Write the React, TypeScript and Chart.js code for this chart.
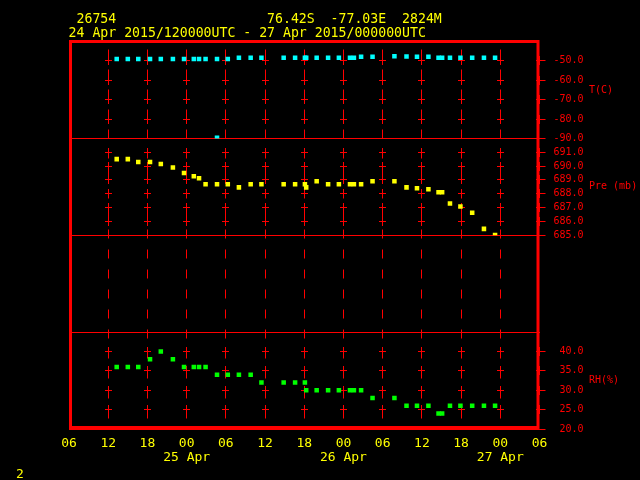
import { useEffect, useRef } from "react";
import { Chart, registerables } from "chart.js";

Chart.register(...registerables);

const RED = "#ff0000";
const YELLOW = "#ffff00";
const CYAN = "#00ffff";
const GREEN = "#00ff00";
const CLEAR = "rgba(0,0,0,0)";
const MONO = '"DejaVu Sans Mono", monospace';

// Header text
const stationId = "26754";
const stationLoc = "76.42S  -77.03E  2824M";
const timeRange = "24 Apr 2015/120000UTC - 27 Apr 2015/000000UTC";
const pageNumber = "2";

// X axis: hours after 24 Apr 2015 06 UTC
const xTickLabels = ["06", "12", "18", "00", "06", "12", "18", "00", "06", "12", "18", "00", "06"];
const xDateLabels = ["", "", "", "25 Apr", "", "", "", "26 Apr", "", "", "", "27 Apr", ""];

// Observation times (hours after 24 Apr 06 UTC)
const obsHours = [
  7.3, 9.0, 10.6, 12.4, 14.05, 15.9, 17.6, 19.1, 19.9, 20.9,
  22.65, 24.3, 26.0, 27.8, 29.45, 32.85, 34.6, 36.1, 36.3, 37.9,
  39.65, 41.3, 43.0, 43.6, 44.7, 46.45, 49.8, 51.65, 53.25, 55.0,
  56.55, 57.1, 58.3, 59.9, 61.7, 63.5, 65.2,
];

const tempC = [
  -49.0, -49.0, -49.0, -49.0, -49.0, -49.0, -49.0, -49.0, -49.0, -49.0,
  -49.0, -49.0, -48.4, -48.4, -48.4, -48.4, -48.4, -48.4, -48.4, -48.4,
  -48.4, -48.4, -48.4, -48.4, -47.9, -47.9, -47.6, -47.7, -47.9, -47.9,
  -48.4, -48.4, -48.4, -48.4, -48.4, -48.4, -48.4,
];

const tempSpikeHours = [22.65];
const tempSpikeC = [-89.7];

const presMb = [
  690.5, 690.5, 690.3, 690.3, 690.15, 689.9, 689.5, 689.27, 689.12, 688.68,
  688.68, 688.68, 688.46, 688.68, 688.68, 688.68, 688.68, 688.68, 688.46, 688.9,
  688.68, 688.68, 688.68, 688.68, 688.68, 688.9, 688.9, 688.46, 688.4, 688.32,
  688.1, 688.1, 687.29, 687.07, 686.63, 685.46, 685.02,
];

const rhPct = [
  36, 36, 36, 38, 40, 38, 36, 36, 36, 36,
  34, 34, 34, 34, 32, 32, 32, 32, 30, 30,
  30, 30, 30, 30, 30, 28, 28, 26, 26, 26,
  24, 24, 26, 26, 26, 26, 26,
];

// Axis ranges
const tRange = { min: -90, max: -40, step: 10, title: "T(C)" };
const pRange = { min: 685, max: 692, step: 1, title: "Pre (mb)" };
const eRange = { min: 0, max: 1, step: 1, title: "" };
const rhRange = { min: 20, max: 45, step: 5, title: "RH(%)" };

const RIGHT_W = 100.5;

function yAxis(r: { min: number; max: number; step: number }, weight: number, show: boolean) {
  return {
    type: "linear" as const,
    position: "right" as const,
    stack: "panels",
    stackWeight: 1,
    weight,
    min: r.min,
    max: r.max,
    afterFit: (s: any) => {
      s.width = RIGHT_W;
    },
    border: { display: false },
    grid: {
      drawOnChartArea: true,
      lineWidth: 1,
      color: (c: any) => (c.tick && c.tick.value === r.min ? RED : CLEAR),
      drawTicks: show,
      tickLength: 6,
      tickWidth: 1,
      tickColor: (c: any) => (c.tick && c.tick.value === r.max ? CLEAR : RED),
    },
    ticks: {
      display: show,
      stepSize: r.step,
      autoSkip: false,
      padding: 8,
      color: RED,
      font: { family: MONO, size: 10 },
      callback: (v: any) => (v === r.max ? "" : Number(v).toFixed(1).padStart(5, " ")),
    },
  };
}

const gempakPlugin = {
  id: "gempak",
  beforeDraw(chart: any) {
    const ctx = chart.ctx;
    ctx.save();
    ctx.fillStyle = "#000";
    ctx.fillRect(0, 0, chart.width, chart.height);
    ctx.restore();
  },
  beforeDatasetsDraw(chart: any) {
    const ctx = chart.ctx;
    const xs = chart.scales.x;
    ctx.save();
    ctx.fillStyle = RED;
    xs.ticks.forEach((xt: any) => {
      if (xt.value === xs.min) return;
      const cx = Math.round(xs.getPixelForValue(xt.value) - 0.5);
      ["yT", "yP", "yRH"].forEach((id) => {
        const s = chart.scales[id];
        s.ticks.forEach((t: any) => {
          if (t.value === s.min || t.value === s.max) return;
          const cy = Math.round(s.getPixelForValue(t.value) - 0.5);
          ctx.fillRect(cx - 3, cy, 7, 1);
          ctx.fillRect(cx, cy - 4, 1, 9);
        });
      });
    });
    ctx.restore();
  },
  afterDraw(chart: any) {
    const ctx = chart.ctx;
    const a = chart.chartArea;
    ctx.save();
    // frame
    ctx.strokeStyle = RED;
    ctx.lineWidth = 3;
    ctx.strokeRect(a.left + 1.5, a.top, a.right - a.left - 3, a.bottom - a.top - 1.5);
    // axis titles
    ctx.fillStyle = RED;
    ctx.font = `10px ${MONO}`;
    ctx.textBaseline = "middle";
    ctx.textAlign = "left";
    const titles: [string, string][] = [
      ["yT", tRange.title],
      ["yP", pRange.title],
      ["yRH", rhRange.title],
    ];
    titles.forEach(([id, text]) => {
      const s = chart.scales[id];
      ctx.fillText(text, a.right + 49.5, (s.top + s.bottom) / 2);
    });
    // header
    ctx.fillStyle = YELLOW;
    ctx.font = `13.2px ${MONO}`;
    ctx.textBaseline = "alphabetic";
    const line1 = " " + stationId + " ".repeat(19) + stationLoc;
    ctx.fillText(line1, 68.6, 23);
    ctx.fillText(timeRange, 68.6, 36.5);
    ctx.font = `13px ${MONO}`;
    ctx.fillText(pageNumber, 16, 478);
    ctx.restore();
  },
};

function pts(xs: number[], ys: number[]) {
  return xs.map((x, i) => ({ x, y: ys[i] }));
}

export default function App() {
  const ref = useRef<HTMLCanvasElement>(null);

  useEffect(() => {
    const canvas = ref.current;
    if (!canvas) return;
    const pointOpts = {
      showLine: false,
      pointStyle: "rect" as const,
      pointRadius: 3.2,
      pointHoverRadius: 3.2,
      pointBorderWidth: 0,
    };
    const chart = new Chart(canvas, {
      type: "scatter",
      data: {
        datasets: [
          { label: "T", data: pts(obsHours, tempC), yAxisID: "yT", backgroundColor: CYAN, borderColor: CYAN, ...pointOpts },
          { label: "T spike", data: pts(tempSpikeHours, tempSpikeC), yAxisID: "yT", backgroundColor: CYAN, borderColor: CYAN, ...pointOpts },
          { label: "Pre", data: pts(obsHours, presMb), yAxisID: "yP", backgroundColor: YELLOW, borderColor: YELLOW, ...pointOpts },
          { label: "RH", data: pts(obsHours, rhPct), yAxisID: "yRH", backgroundColor: GREEN, borderColor: GREEN, ...pointOpts },
        ],
      },
      options: {
        animation: false,
        responsive: false,
        maintainAspectRatio: false,
        devicePixelRatio: 1,
        events: [],
        layout: { padding: { left: 69, top: 41.5, right: 0, bottom: 0 } },
        plugins: { legend: { display: false }, tooltip: { enabled: false }, title: { display: false } },
        scales: {
          x: {
            type: "linear",
            position: "bottom",
            min: 0,
            max: 72,
            afterFit: (s: any) => {
              s.height = 51;
            },
            border: { display: false, dash: [9, 11], dashOffset: 12 },
            grid: {
              lineWidth: 1,
              drawTicks: false,
              color: (c: any) => (c.tick && (c.tick.value === 0 || c.tick.value === 72) ? CLEAR : RED),
            },
            ticks: {
              stepSize: 6,
              autoSkip: false,
              maxRotation: 0,
              minRotation: 0,
              color: YELLOW,
              padding: 8,
              font: { family: MONO, size: 13, lineHeight: 1.08 },
              callback: (v: any) => {
                const i = Math.round(Number(v) / 6);
                const h = xTickLabels[i] ?? "";
                const d = xDateLabels[i] ?? "";
                return d ? [h, d] : h;
              },
            },
          },
          yT: yAxis(tRange, 1, true),
          yP: yAxis(pRange, 2, true),
          yE: yAxis(eRange, 3, false),
          yRH: yAxis(rhRange, 4, true),
        } as any,
      },
      plugins: [gempakPlugin],
    });
    return () => chart.destroy();
  }, []);

  return (
    <div style={{ position: "fixed", left: 0, top: 0, width: 640, height: 480, background: "#000" }}>
      <canvas ref={ref} width={640} height={480} style={{ display: "block" }} />
    </div>
  );
}
